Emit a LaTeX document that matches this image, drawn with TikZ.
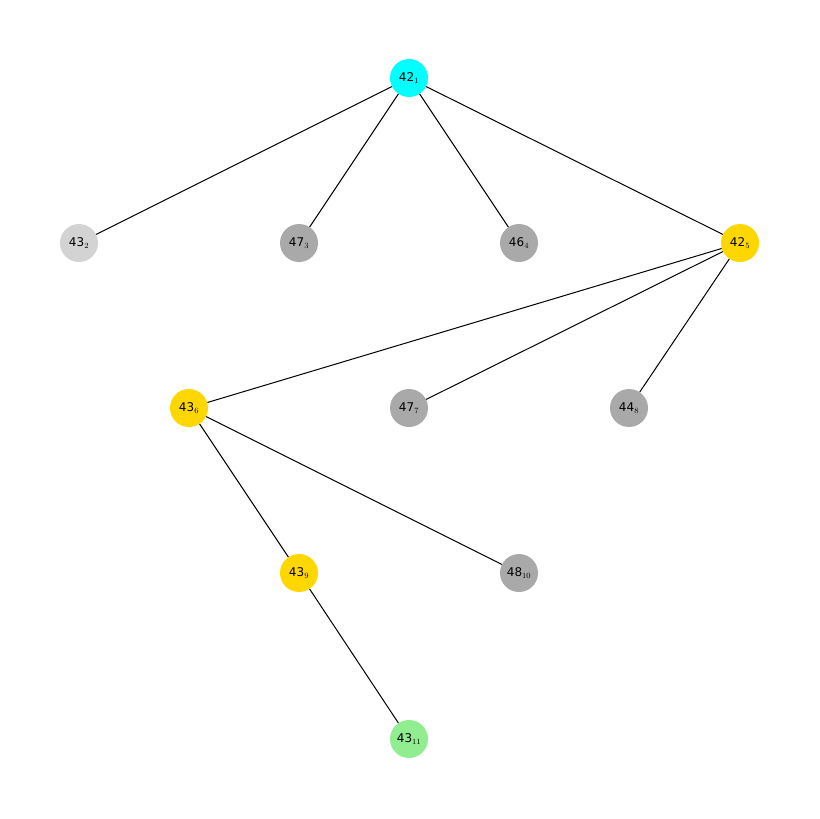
\documentclass[tikz,border=0pt]{standalone}
\usepackage{fontspec}
\setmainfont{DejaVu Sans}
\definecolor{cy}{RGB}{0,255,255}
\definecolor{lg}{RGB}{211,211,211}
\definecolor{dg}{RGB}{169,169,169}
\definecolor{gd}{RGB}{255,215,0}
\definecolor{gr}{RGB}{144,238,144}
\begin{document}
\begin{tikzpicture}[x=1pt,y=-1pt,
 nd/.style={circle,minimum size=38pt,inner sep=0pt,font=\fontsize{12}{14}\selectfont},
 ed/.style={draw=black,line width=1pt}]
\useasboundingbox[fill=white] (0,0) rectangle (819,819);
\node[nd,fill=cy] (n1) at (409,78) {42$_1$};
\node[nd,fill=lg] (n2) at (79,243) {43$_2$};
\node[nd,fill=dg] (n3) at (299,243) {47$_3$};
\node[nd,fill=dg] (n4) at (519,243) {46$_4$};
\node[nd,fill=gd] (n5) at (740,243) {42$_5$};
\node[nd,fill=gd] (n6) at (189,408) {43$_6$};
\node[nd,fill=dg] (n7) at (409,408) {47$_7$};
\node[nd,fill=dg] (n8) at (629,408) {44$_8$};
\node[nd,fill=gd] (n9) at (299,573) {43$_9$};
\node[nd,fill=dg] (n10) at (519,573) {48$_{10}$};
\node[nd,fill=gr] (n11) at (409,739) {43$_{11}$};
\foreach \a/\b in {n1/n2,n1/n3,n1/n4,n1/n5,n5/n6,n5/n7,n5/n8,n6/n9,n6/n10,n9/n11}
 \draw[ed] (\a) -- (\b);
\end{tikzpicture}
\end{document}
